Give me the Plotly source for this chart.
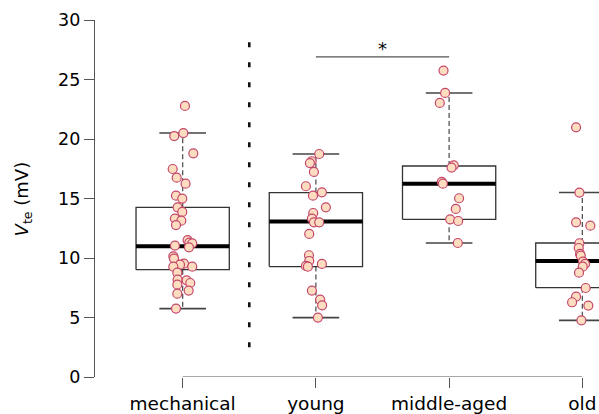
import plotly.graph_objects as go

categories = ["mechanical", "young", "middle-aged", "old"]

mech_vals = [22.78, 20.5, 20.25, 18.8, 17.48, 16.75, 16.25, 15.24, 14.99, 14.26, 13.87, 13.31,
             13.14, 12.77, 11.51, 11.29, 11.23, 11.04, 10.9, 10.14, 9.95, 9.53, 9.44, 9.27,
             9.27, 8.77, 8.18, 8.12, 7.9, 7.76, 7.26, 7.0, 5.75]
mech_jit = [0.017, 0.005, -0.063, 0.080, -0.075, -0.045, 0.022, -0.050, -0.003, -0.038, -0.003, -0.058,
            -0.010, -0.050, 0.037, 0.050, 0.072, -0.058, 0.047, -0.070, -0.065, 0.010, -0.020, -0.070,
            0.072, -0.040, -0.038, 0.030, 0.057, -0.040, 0.045, -0.040, -0.050]

young_vals = [18.74, 18.13, 17.98, 17.23, 16.03, 15.52, 15.24, 14.26, 13.78, 13.31, 13.0, 13.0,
              12.02, 10.23, 9.75, 9.33, 9.27, 9.50, 7.26, 6.50, 6.02, 4.99]
young_jit = [0.025, -0.032, -0.045, -0.015, -0.075, 0.045, -0.022, 0.075, -0.020, -0.030, -0.015, 0.025,
             -0.050, -0.052, -0.050, -0.075, -0.060, 0.045, -0.030, 0.032, 0.047, 0.015]

mid_vals = [25.75, 23.87, 23.03, 17.79, 17.6, 16.39, 16.25, 15.02, 14.12, 13.25, 13.11, 11.26]
mid_jit = [-0.042, -0.030, -0.070, 0.035, 0.018, -0.055, -0.047, 0.075, 0.050, 0.008, 0.068, 0.065]

old_vals = [20.98, 15.5, 13.0, 12.72, 11.24, 10.84, 10.34, 10.2, 9.70, 9.50, 9.27, 8.77,
            7.48, 6.76, 6.28, 6.0, 4.76]
old_jit = [-0.047, -0.022, -0.047, 0.060, -0.022, -0.027, -0.017, -0.012, 0.005, 0.020, 0.003, -0.025,
           0.025, -0.047, -0.077, 0.045, -0.007]

# box statistics
q1 = [9.02, 9.28, 13.25, 7.51]
med = [10.98, 13.06, 16.25, 9.75]
q3 = [14.26, 15.5, 17.73, 11.26]
wlo = [5.75, 4.99, 11.26, 4.76]
whi = [20.5, 18.74, 23.87, 15.5]

y_ticks = [0, 5, 10, 15, 20, 25, 30]

groups = [(mech_vals, mech_jit), (young_vals, young_jit), (mid_vals, mid_jit), (old_vals, old_jit)]

FONT = "DejaVu Sans"
fig = go.Figure()

half = 0.35
cap = 0.175
for i in range(4):
    c = i + 1
    # whiskers (dashed)
    fig.add_trace(go.Scatter(x=[c, c], y=[q3[i], whi[i]], mode="lines",
                             line=dict(color="#555555", width=1.3, dash="5px,3px"),
                             hoverinfo="skip", showlegend=False))
    fig.add_trace(go.Scatter(x=[c, c], y=[q1[i], wlo[i]], mode="lines",
                             line=dict(color="#555555", width=1.3, dash="5px,3px"),
                             hoverinfo="skip", showlegend=False))
    # caps
    for v in (whi[i], wlo[i]):
        fig.add_trace(go.Scatter(x=[c - cap, c + cap], y=[v, v], mode="lines",
                                 line=dict(color="#444444", width=1.6),
                                 hoverinfo="skip", showlegend=False))
    # box
    fig.add_trace(go.Scatter(x=[c - half, c + half, c + half, c - half, c - half],
                             y=[q1[i], q1[i], q3[i], q3[i], q1[i]], mode="lines",
                             line=dict(color="#333333", width=1.3),
                             hoverinfo="skip", showlegend=False))
    # median
    fig.add_trace(go.Scatter(x=[c - half, c + half], y=[med[i], med[i]], mode="lines",
                             line=dict(color="#000000", width=4),
                             hoverinfo="skip", showlegend=False))

for i, (vals, jit) in enumerate(groups):
    c = i + 1
    fig.add_trace(go.Scatter(x=[c + j for j in jit], y=vals, mode="markers",
                             marker=dict(size=9, color="#FDDCC0",
                                         line=dict(color="#C4476A", width=1.2)),
                             cliponaxis=False, showlegend=False))

# vertical divider
fig.add_trace(go.Scatter(x=[1.5, 1.5], y=[28.13, 2.41], mode="lines",
                         line=dict(color="#111111", width=2.6, dash="5px,15px"),
                         hoverinfo="skip", showlegend=False))
# significance bar
fig.add_trace(go.Scatter(x=[2, 3], y=[26.9, 26.9], mode="lines",
                         line=dict(color="#555555", width=1.2),
                         hoverinfo="skip", showlegend=False))
fig.add_annotation(x=2.5, y=26.9, text="*", showarrow=False, yanchor="bottom",
                   font=dict(family=FONT, size=18, color="#000000"), yshift=-4)

# x axis line from first to last category
fig.add_trace(go.Scatter(x=[1, 4], y=[0, 0], mode="lines",
                         line=dict(color="#555555", width=1.2),
                         cliponaxis=False, hoverinfo="skip", showlegend=False))

# y label
fig.add_annotation(xref="paper", yref="y", x=-0.143, y=15, xanchor="center", yanchor="middle",
                   text="<i>V</i><sub>te</sub> (mV)", textangle=-90, showarrow=False,
                   font=dict(family=FONT, size=18, color="#000000"))

fig.update_layout(
    width=599, height=414,
    margin=dict(l=95, r=0, t=20, b=37),
    paper_bgcolor="white", plot_bgcolor="white",
    xaxis=dict(range=[0.342, 4.125], tickvals=[1, 2, 3, 4], ticktext=categories,
               showgrid=False, zeroline=False, showline=False,
               ticks="outside", ticklen=10, tickwidth=1.2, tickcolor="#555555",
               tickfont=dict(family=FONT, size=18.5, color="#000000")),
    yaxis=dict(range=[0, 30], tickvals=y_ticks, ticktext=[str(t) for t in y_ticks],
               showgrid=False, zeroline=False, showline=True, linecolor="#555555", linewidth=1.2,
               ticks="outside", ticklen=10, tickwidth=1.2, tickcolor="#555555",
               tickfont=dict(family=FONT, size=17.5, color="#000000")),
)

fig.write_html("out.html")
